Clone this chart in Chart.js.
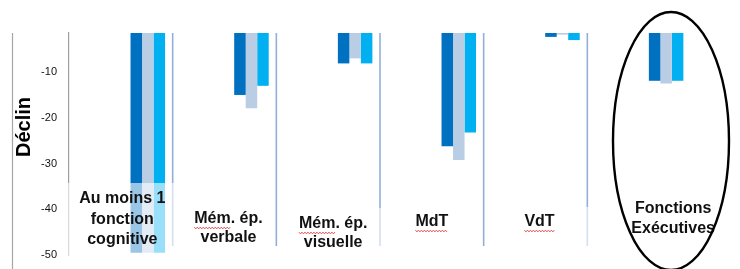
<!DOCTYPE html>
<html>
<head>
<meta charset="utf-8">
<script src="https://cdn.jsdelivr.net/npm/chart.js@4"></script>
<style>
  html, body { margin: 0; padding: 0; background: #fff; }
  #wrap { width: 740px; height: 269px; }
</style>
</head>
<body>
<div id="wrap"><canvas id="chart" width="740" height="269"></canvas></div>
<script>
// data
const categories = [
    ['Au moins 1', 'fonction', 'cognitive'],
    ['Mém. ép.', 'verbale'],
    ['Mém. ép.', 'visuelle'],
    ['MdT'],
    ['VdT'],
    ['Fonctions', 'Exécutives']
];
const series1 = [-49.5, -15, -8.1, -26.2, -2.3, -11.9];
const series2 = [-49.5, -17.9, -7, -29.2, -1.8, -12.5];
const series3 = [-49.5, -13, -8.1, -23.2, -3, -11.9];
const yTicks = [-10, -20, -30, -40, -50];
const colors = ['#0070C0', '#B9CDE5', '#00B0F0'];

// label placement inside the plot (dx from category centre, first line y, line height)
const labelLayout = [
    { dx: 1.5, y: 199, lh: 20.5, box: 183 },
    { dx: 4, y: 219, lh: 18.5, box: null, squiggle: 'Mém' },
    { dx: 5, y: 224, lh: 18.5, box: 208, squiggle: 'Mém' },
    { dx: 0, y: 222, lh: 18, box: null, squiggle: 'MdT' },
    { dx: 4, y: 222, lh: 18, box: 207, squiggle: 'VdT' },
    { dx: 34, y: 209, lh: 20, box: null }
];

const labelFont = 'bold 16px "Liberation Sans", Arial, sans-serif';

function toPoints(values) {
    return values.map((v, i) => ({ x: i, y: v }));
}

// separators between categories
const separators = {
    id: 'separators',
    beforeDatasetsDraw(chart) {
        const ctx = chart.ctx;
        const x2 = chart.scales.x2;
        const top = chart.chartArea.top;
        ctx.save();
        ctx.strokeStyle = '#93afd8';
        ctx.lineWidth = 1.6;
        for (let i = 0; i < categories.length - 1; i++) {
            const bx = (x2.getPixelForValue(i) + x2.getPixelForValue(i + 1)) / 2;
            ctx.beginPath();
            ctx.moveTo(bx, top);
            ctx.lineTo(bx, 246);
            ctx.stroke();
        }
        ctx.restore();
    }
};

// label boxes, texts, ellipse and side line
const overlays = {
    id: 'overlays',
    afterDraw(chart) {
        const ctx = chart.ctx;
        const x2 = chart.scales.x2;
        const area = chart.chartArea;
        const half = (x2.getPixelForValue(1) - x2.getPixelForValue(0)) / 2;

        ctx.save();
        // left border line
        ctx.strokeStyle = '#a6a6a6';
        ctx.lineWidth = 1.2;
        ctx.beginPath();
        ctx.moveTo(12.5, area.top);
        ctx.lineTo(12.5, 269);
        ctx.stroke();

        // semi transparent text boxes
        ctx.fillStyle = 'rgba(255,255,255,0.6)';
        labelLayout.forEach((l, i) => {
            if (l.box === null) return;
            const c = x2.getPixelForValue(i);
            const x0 = i === 0 ? c - half - 1 : c - 40;
            ctx.fillRect(x0, l.box, c + half + 2 - x0, 257 - l.box);
        });

        // category labels
        ctx.font = labelFont;
        ctx.fillStyle = '#111';
        ctx.textAlign = 'center';
        ctx.textBaseline = 'middle';
        categories.forEach((lines, i) => {
            const l = labelLayout[i];
            const cx = x2.getPixelForValue(i) + l.dx;
            lines.forEach((line, j) => {
                ctx.fillText(line, cx, l.y + j * l.lh);
            });
            if (l.squiggle) {
                const w = ctx.measureText(lines[0]).width;
                const sw = ctx.measureText(l.squiggle).width;
                const sx = cx - w / 2;
                const sy = l.y + 9;
                ctx.save();
                ctx.strokeStyle = '#e04848';
                ctx.lineWidth = 0.9;
                ctx.beginPath();
                let k = 0;
                for (let x = sx; x <= sx + sw; x += 1.5) {
                    const y = sy + (k++ % 2 ? 0.9 : -0.9);
                    if (x === sx) ctx.moveTo(x, y); else ctx.lineTo(x, y);
                }
                ctx.stroke();
                ctx.restore();
            }
        });

        // y axis title
        ctx.save();
        ctx.translate(24, 127);
        ctx.rotate(-Math.PI / 2);
        ctx.font = 'bold 20px "Liberation Sans", Arial, sans-serif';
        ctx.fillStyle = '#000';
        ctx.fillText('Déclin', 0, 0);
        ctx.restore();

        // ellipse around the last group
        ctx.strokeStyle = '#000';
        ctx.lineWidth = 2.4;
        ctx.beginPath();
        ctx.ellipse(671, 141, 58, 129, 0, 0, Math.PI * 2);
        ctx.stroke();
        ctx.restore();
    }
};

const ctx = document.getElementById('chart').getContext('2d');
new Chart(ctx, {
    type: 'bar',
    data: {
        labels: categories,
        datasets: [
            { label: 'Série 1', data: toPoints(series1), backgroundColor: colors[0] },
            { label: 'Série 2', data: toPoints(series2), backgroundColor: colors[1] },
            { label: 'Série 3', data: toPoints(series3), backgroundColor: colors[2] }
        ]
    },
    options: {
        responsive: false,
        animation: false,
        events: [],
        layout: { padding: { top: 33, bottom: 14, right: 49, left: 0 } },
        datasets: {
            bar: { barPercentage: 1, categoryPercentage: 0.333 }
        },
        plugins: {
            legend: { display: false },
            tooltip: { enabled: false }
        },
        scales: {
            x: {
                type: 'linear',
                min: -0.76,
                max: 5.24,
                offset: false,
                display: false,
                afterBuildTicks(scale) {
                    scale.ticks = categories.map((c, i) => ({ value: i }));
                }
            },
            x2: {
                type: 'category',
                labels: categories,
                offset: true,
                display: false
            },
            y: {
                min: -50,
                max: -1.45,
                afterFit(scale) {
                    scale.width = 69;
                    scale.paddingTop = 0;
                    scale.paddingBottom = 0;
                },
                afterBuildTicks(scale) {
                    scale.ticks = yTicks.map(v => ({ value: v }));
                },
                grid: { display: false, drawTicks: false },
                border: { display: true, color: '#a0a0a0', width: 1.2 },
                ticks: {
                    padding: 12,
                    color: '#111',
                    font: { family: '"Liberation Sans", Arial, sans-serif', size: 11 }
                }
            }
        }
    },
    plugins: [separators, overlays]
});
</script>
</body>
</html>
